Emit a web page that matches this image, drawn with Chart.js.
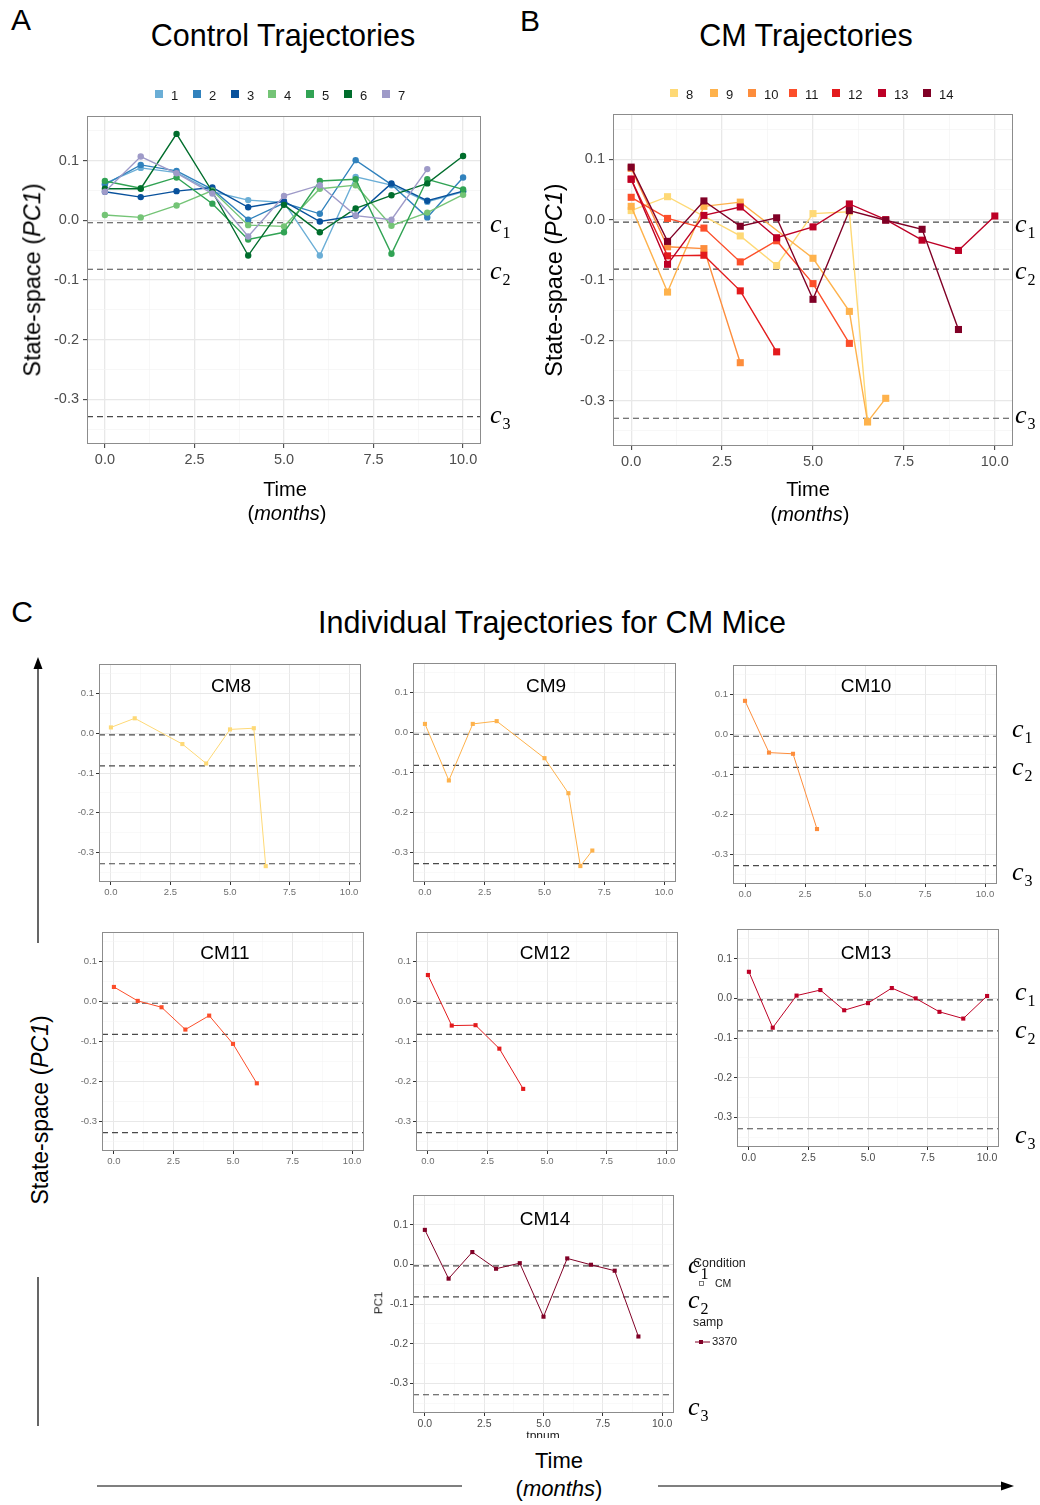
<!DOCTYPE html>
<html>
<head>
<meta charset="utf-8">
<script src="https://cdn.jsdelivr.net/npm/chart.js@4.4.1/dist/chart.umd.min.js"></script>
<style>
html, body { margin: 0; padding: 0; background: #fff; }
#fig { position: relative; width: 1040px; height: 1505px; overflow: hidden;
       font-family: "Liberation Sans", Arial, sans-serif; color: #000; }
.t { position: absolute; white-space: nowrap; line-height: 1; transform: translate(-50%, -50%); }
.rot { transform: translate(-50%, -50%) rotate(-90deg); }
.l { position: absolute; white-space: nowrap; line-height: 1; transform: translateY(-50%); }
.cl { position: absolute; white-space: nowrap; line-height: 1; transform: translateY(-50%);
      font-family: "Liberation Serif", "DejaVu Serif", serif; font-style: italic; font-size: 26px; }
.cl span { font-style: normal; font-size: 16px; position: relative; top: 6px; margin-left: 1px; }
canvas { position: absolute; }
.key { position: absolute; width: 8px; height: 8px; }
svg { position: absolute; left: 0; top: 0; }
</style>
</head>
<body>
<div id="fig"></div>
<script>
// ---------- data ----------
const timePoints = [0, 1, 2, 3, 4, 5, 6, 7, 8, 9, 10];

// control mice (PC1 state-space position per month)
const ctrlIds = ['1', '2', '3', '4', '5', '6', '7'];
const ctrlColors = ['#6baed6', '#3182bd', '#08519c', '#74c476', '#31a354', '#006d2c', '#9e9ac8'];
const ctrl1 = [0.062, 0.088, 0.080, 0.048, 0.034, 0.030, -0.059, 0.073, 0.059, 0.031, 0.048];
const ctrl2 = [0.060, 0.093, 0.083, 0.052, 0.001, 0.029, 0.011, 0.101, 0.060, 0.005, 0.072];
const ctrl3 = [0.048, 0.039, 0.049, 0.055, 0.022, 0.032, -0.002, 0.008, 0.062, 0.033, 0.049];
const ctrl4 = [0.009, 0.005, 0.025, 0.050, -0.008, -0.010, 0.053, 0.059, -0.009, 0.013, 0.043];
const ctrl5 = [0.066, 0.054, 0.072, 0.028, -0.032, -0.020, 0.066, 0.069, -0.056, 0.069, 0.052];
const ctrl6 = [0.053, 0.053, 0.145, 0.048, -0.059, 0.026, -0.020, 0.020, 0.042, 0.062, 0.108];
const ctrl7 = [0.048, 0.107, 0.079, 0.045, -0.027, 0.041, 0.059, 0.008, 0.001, 0.086];
const ctrlValues = [ctrl1, ctrl2, ctrl3, ctrl4, ctrl5, ctrl6, ctrl7];

// CM mice
const cmIds = ['8', '9', '10', '11', '12', '13', '14'];
const cmColors = ['#fed976', '#feb24c', '#fd8d3c', '#fc4e2a', '#e31a1c', '#bd0026', '#800026'];
const cm8Time = [0, 1, 3, 4, 5, 6, 6.5];
const cm8Val = [0.015, 0.038, -0.027, -0.076, 0.010, 0.013, -0.335];
const cm9Time = [0, 1, 2, 3, 5, 6, 6.5, 7];
const cm9Val = [0.022, -0.120, 0.022, 0.029, -0.064, -0.152, -0.335, -0.296];
const cm10Time = [0, 1, 2, 3];
const cm10Val = [0.085, -0.045, -0.048, -0.237];
const cm11Time = [0, 1, 2, 3, 4, 5, 6];
const cm11Val = [0.037, 0.002, -0.014, -0.070, -0.035, -0.106, -0.205];
const cm12Time = [0, 1, 2, 3, 4];
const cm12Val = [0.067, -0.060, -0.059, -0.118, -0.219];
const cm13Time = [0, 1, 2, 3, 4, 5, 6, 7, 8, 9, 10];
const cm13Val = [0.067, -0.074, 0.007, 0.021, -0.030, -0.012, 0.026, 0.000, -0.034, -0.051, 0.006];
const cm14Time = [0, 1, 2, 3, 4, 5, 6, 7, 8, 9];
const cm14Val = [0.087, -0.036, 0.031, -0.011, 0.003, -0.132, 0.015, -0.001, -0.016, -0.182];
const cmTimes = [cm8Time, cm9Time, cm10Time, cm11Time, cm12Time, cm13Time, cm14Time];
const cmValues = [cm8Val, cm9Val, cm10Val, cm11Val, cm12Val, cm13Val, cm14Val];
const sampleId = '3370';

// state thresholds c1, c2, c3
const thresholds = [-0.004, -0.082, -0.329];

// axes
const xRange = [-0.5, 10.5];
const yRange = [-0.375, 0.175];
const xTickVals = [0, 1.25, 2.5, 3.75, 5, 6.25, 7.5, 8.75, 10];
const yTickVals = [-0.35, -0.3, -0.25, -0.2, -0.15, -0.1, -0.05, 0, 0.05, 0.1, 0.15];

// ---------- helpers ----------
const fig = document.getElementById('fig');
const isMajor = (v, step) => Math.abs(v / step - Math.round(v / step)) < 1e-6;

function addText(html, x, y, size, extra) {
  const d = document.createElement('div');
  d.className = 't' + (extra && extra.rot ? ' rot' : '');
  d.style.left = x + 'px';
  d.style.top = y + 'px';
  d.style.fontSize = size + 'px';
  if (extra && extra.color) d.style.color = extra.color;
  d.innerHTML = html;
  fig.appendChild(d);
  return d;
}
function addLeftText(html, x, y, size, color) {
  const d = document.createElement('div');
  d.className = 'l';
  d.style.left = x + 'px';
  d.style.top = y + 'px';
  d.style.fontSize = size + 'px';
  if (color) d.style.color = color;
  d.innerHTML = html;
  fig.appendChild(d);
  return d;
}
function addCLabels(x, ys) {
  ys.forEach((y, i) => {
    const d = document.createElement('div');
    d.className = 'cl';
    d.style.left = x + 'px';
    d.style.top = y + 'px';
    d.innerHTML = 'c<span>' + (i + 1) + '</span>';
    fig.appendChild(d);
  });
}
function addLegend(ids, colors, keyX, y) {
  ids.forEach((id, i) => {
    const k = document.createElement('div');
    k.className = 'key';
    k.style.left = keyX[i] + 'px';
    k.style.top = (y - 4) + 'px';
    k.style.background = colors[i];
    fig.appendChild(k);
    addLeftText(id, keyX[i] + 16, y + 1, 13, '#1a1a1a');
  });
}

const framePlugin = {
  id: 'frame',
  afterDatasetsDraw(chart, args, opts) {
    const a = chart.chartArea, c = chart.ctx;
    c.save();
    c.strokeStyle = opts.color;
    c.lineWidth = 1;
    c.strokeRect(Math.round(a.left) + 0.5, Math.round(a.top) + 0.5,
                 Math.round(a.right - a.left) - 1, Math.round(a.bottom - a.top) - 1);
    c.restore();
  }
};

function lineSet(times, vals, color, style, lw, radius) {
  return {
    data: times.map((t, i) => ({ x: t, y: vals[i] })),
    borderColor: color, backgroundColor: color,
    borderWidth: lw, pointStyle: style, pointRadius: radius,
    pointBorderWidth: 0, pointHoverRadius: radius, tension: 0
  };
}
function refSets() {
  return thresholds.map(c => ({
    data: [{ x: xRange[0], y: c }, { x: xRange[1], y: c }],
    borderColor: '#4a4a4a', borderWidth: 1.2, borderDash: [6, 4],
    pointRadius: 0, pointHoverRadius: 0
  }));
}

function buildPanel(cfg) {
  const padTop = 18, padRight = 30;
  const l = Math.round(cfg.box.l), r = Math.round(cfg.box.r);
  const t = Math.round(cfg.box.t), b = Math.round(cfg.box.b);
  const cv = document.createElement('canvas');
  cv.width = (r - l) + cfg.yW + padRight;
  cv.height = (b - t) + padTop + cfg.xH;
  cv.style.left = (l - cfg.yW) + 'px';
  cv.style.top = (t - padTop) + 'px';
  fig.appendChild(cv);

  // reference lines first, later series on top
  const datasets = refSets().concat(cfg.series);
  datasets.forEach((d, i) => { d.order = datasets.length - i; });

  const font = { family: '"Liberation Sans", Arial, sans-serif', size: cfg.tickSize };
  const gridCommon = (step) => ({
    color: ctx => isMajor(ctx.tick.value, step) ? '#e8e8e8' : '#f3f3f3',
    lineWidth: ctx => isMajor(ctx.tick.value, step) ? cfg.majorW : cfg.minorW,
    tickColor: ctx => isMajor(ctx.tick.value, step) ? '#333333' : 'rgba(0,0,0,0)',
    tickWidth: 1,
    tickLength: cfg.tickLen,
    drawOnChartArea: true
  });

  new Chart(cv, {
    type: 'line',
    data: { datasets },
    plugins: [framePlugin],
    options: {
      responsive: false, animation: false, devicePixelRatio: 1, events: [],
      layout: { padding: { top: padTop, right: padRight, left: 0, bottom: 0 } },
      plugins: { legend: { display: false }, tooltip: { enabled: false },
                 frame: { color: '#8c8c8c' } },
      scales: {
        x: {
          type: 'linear', min: xRange[0], max: xRange[1],
          afterBuildTicks: s => { s.ticks = xTickVals.map(v => ({ value: v })); },
          afterFit: s => { s.height = cfg.xH; },
          ticks: {
            autoSkip: false, maxRotation: 0, padding: cfg.xPad, font, color: cfg.tickColor,
            callback: v => isMajor(v, 2.5) ? v.toFixed(1) : ''
          },
          grid: gridCommon(2.5),
          border: { display: false }
        },
        y: {
          type: 'linear', min: yRange[0], max: yRange[1],
          afterBuildTicks: s => { s.ticks = yTickVals.map(v => ({ value: v })); },
          afterFit: s => { s.width = cfg.yW; },
          ticks: {
            autoSkip: false, padding: cfg.yPad, font, color: cfg.tickColor,
            callback: v => isMajor(v, 0.1) ? (Math.abs(v) < 1e-9 ? '0.0' : v.toFixed(1)) : ''
          },
          grid: gridCommon(0.1),
          border: { display: false }
        }
      }
    }
  });
}

// ---------- panel A: controls ----------
buildPanel({
  box: { l: 87, r: 481, t: 116, b: 444 },
  yW: 70, xH: 40, tickSize: 14.5, tickColor: '#4d4d4d', tickLen: 4, xPad: 3, yPad: 4,
  majorW: 1.3, minorW: 0.7,
  series: ctrlValues.map((v, i) => lineSet(timePoints.slice(0, v.length), v, ctrlColors[i], 'circle', 1.4, 3.2))
});

// ---------- panel B: all CM mice ----------
buildPanel({
  box: { l: 612.5, r: 1012.5, t: 114, b: 446 },
  yW: 70, xH: 40, tickSize: 14.5, tickColor: '#4d4d4d', tickLen: 4, xPad: 3, yPad: 4,
  majorW: 1.3, minorW: 0.7,
  series: cmValues.map((v, i) => lineSet(cmTimes[i], v, cmColors[i], 'rect', 1.4, 5))
});

// ---------- panel C: one small plot per CM mouse ----------
const smallBoxes = [
  { l: 99, r: 361, t: 664, b: 882 },
  { l: 413, r: 676, t: 662.5, b: 881.5 },
  { l: 733, r: 997, t: 665, b: 884 },
  { l: 101.5, r: 363.5, t: 932, b: 1151 },
  { l: 415.5, r: 677.5, t: 932, b: 1151 },
  { l: 736.5, r: 999, t: 928.5, b: 1147 },
  { l: 412.5, r: 674, t: 1194.5, b: 1412.5 }
];
const smallTitlePos = [[231, 685], [546, 685], [866, 685], [225, 952], [545, 952], [866, 952], [545, 1218]];
cmIds.forEach((id, i) => {
  const big = i >= 5;
  buildPanel({
    box: smallBoxes[i],
    yW: 45, xH: 20, tickSize: big ? 10.5 : 9.5, tickColor: big ? '#4d4d4d' : '#6e6e6e',
    tickLen: 3, xPad: 2, yPad: 2, majorW: 1.0, minorW: 0.5,
    series: [lineSet(cmTimes[i], cmValues[i], cmColors[i], 'rect', 1.0, 2.9)]
  });
  addText('CM' + id, smallTitlePos[i][0], smallTitlePos[i][1], 19);
});

// ---------- titles, labels ----------
addText('A', 21, 20, 30);
addText('B', 530, 21, 30);
addText('C', 22, 612, 30);
addText('Control Trajectories', 283, 35, 30.5);
addText('CM Trajectories', 806, 35, 30.5);
addText('Individual Trajectories for CM Mice', 552, 622, 30.5);

addText('State-space (<i>PC1</i>)', 33, 280, 23.5, { rot: true });
addText('State-space (<i>PC1</i>)', 555, 280, 23.5, { rot: true });
addText('Time', 285, 489, 20);
addText('(<i>months</i>)', 287, 513, 20);
addText('Time', 808, 489, 20);
addText('(<i>months</i>)', 810, 514, 20);

addText('State-space (<i>PC1</i>)', 40, 1110, 23, { rot: true });
addText('Time', 559, 1461, 22);
addText('(<i>months</i>)', 559, 1489, 22);

addLegend(ctrlIds, ctrlColors, [155, 193, 231, 268, 306, 344, 382], 94);
addLegend(cmIds, cmColors, [670, 710, 748, 789, 832, 878, 923], 93);

addCLabels(490, [224, 271, 415]);
addCLabels(1015, [224, 271, 415]);
addCLabels(1012, [729, 767, 872]);
addCLabels(1015, [992, 1030, 1135]);
addCLabels(688, [1265, 1300, 1407]);

// axis names and legend that belong to the last small plot
addText('PC1', 379, 1303, 11.5, { rot: true, color: '#1a1a1a' });
const tp = addText('tpnum', 543, 1434, 12, { color: '#1a1a1a' });
tp.style.height = '8px'; tp.style.overflow = 'hidden'; tp.style.top = '1434px';
tp.style.transform = 'translate(-50%, -4px)';
tp.style.lineHeight = '13px';
addLeftText('Condition', 693, 1263, 12.5, '#1a1a1a');
addLeftText('CM', 715, 1283, 10.5, '#1a1a1a');
addLeftText('samp', 693, 1322, 12.3, '#1a1a1a');
addLeftText(sampleId, 712, 1342, 11.3, '#1a1a1a');

// arrows along the shared axes of panel C, plus small legend glyphs
const NS = 'http://www.w3.org/2000/svg';
const svg = document.createElementNS(NS, 'svg');
svg.setAttribute('width', 1040); svg.setAttribute('height', 1505);
svg.innerHTML =
  '<line x1="38" y1="668" x2="38" y2="943" stroke="#000" stroke-width="1.2"/>' +
  '<polygon points="38,657 33.5,669 42.5,669" fill="#000"/>' +
  '<line x1="38" y1="1277" x2="38" y2="1426" stroke="#000" stroke-width="1.2"/>' +
  '<line x1="97" y1="1486" x2="462" y2="1486" stroke="#000" stroke-width="1.2"/>' +
  '<line x1="658" y1="1486" x2="1002" y2="1486" stroke="#000" stroke-width="1.2"/>' +
  '<polygon points="1014,1486 1001,1481.5 1001,1490.5" fill="#000"/>' +
  '<rect x="699.5" y="1281.5" width="4" height="4" fill="none" stroke="#555" stroke-width="0.8"/>' +
  '<line x1="695" y1="1342" x2="710" y2="1342" stroke="' + cmColors[6] + '" stroke-width="1"/>' +
  '<rect x="699" y="1340" width="4" height="4" fill="' + cmColors[6] + '"/>';
fig.appendChild(svg);
</script>
</body>
</html>
